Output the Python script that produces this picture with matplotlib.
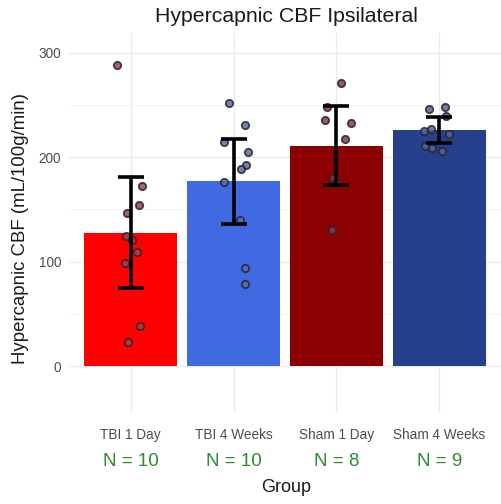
import matplotlib
matplotlib.use('Agg')
import matplotlib.pyplot as plt
import numpy as np
from matplotlib.ticker import MultipleLocator

plt.rcParams['font.family'] = ['Liberation Sans', 'DejaVu Sans']

# data
groups = ['TBI 1 Day', 'TBI 4 Weeks', 'Sham 1 Day', 'Sham 4 Weeks']
n_labels = ['N = 10', 'N = 10', 'N = 8', 'N = 9']
bar_colors = ['#FF0000', '#4169E1', '#8B0000', '#27408B']
point_colors = ['#A8404C', '#5A6CA8', '#8E3A44', '#55639A']

tbi_1day = [288.6, 172, 154, 147, 125, 121, 109, 99, 38.6, 22.7]
tbi_4wk = [252, 230.7, 215, 205, 193, 188.5, 176, 139.7, 93.7, 78.3]
sham_1day = [270.7, 248.3, 235.6, 233, 217, 180, 130, 175]
sham_4wk = [246.4, 248.3, 239.4, 227, 225.3, 222, 211, 208.6, 206.4]

# jitter offsets (category units) as seen in the picture
jit_tbi_1day = [-0.138, 0.113, 0.08, -0.033, -0.048, 0.013, 0.065, -0.058, 0.094, -0.029]
jit_tbi_4wk = [-0.042, 0.109, -0.096, 0.138, 0.116, 0.073, -0.094, 0.061, 0.112, 0.112]
jit_sham_1day = [0.041, -0.087, -0.116, 0.145, 0.087, -0.036, -0.039, 0.0]
jit_sham_4wk = [-0.103, 0.051, 0.068, -0.077, -0.145, 0.094, -0.142, -0.07, 0.026]

err_half = [53, 40.7, 38, 12.3]

values = [tbi_1day, tbi_4wk, sham_1day, sham_4wk]
jitters = [jit_tbi_1day, jit_tbi_4wk, jit_sham_1day, jit_sham_4wk]
means = [np.mean(v) for v in values]

fig = plt.figure(figsize=(5.02, 5.04), dpi=100)
W, H = 502, 504
ax = fig.add_axes([68 / W, 1 - 413 / H, 433 / W, 380 / H])

x = np.arange(1, len(groups) + 1)
ax.bar(x, means, width=0.9, color=bar_colors, zorder=2)

for i, (vals, jit) in enumerate(zip(values, jitters)):
    ax.scatter(x[i] + np.array(jit), vals, s=28, facecolor=point_colors[i],
               edgecolor='#262630', linewidth=1.3, alpha=0.85, zorder=3)

ax.errorbar(x, means, yerr=err_half, fmt='none', ecolor='black',
            elinewidth=2.6, capsize=9.4, capthick=2.6, zorder=4)

ax.set_xlim(0.39, 4.6)
ax.set_ylim(-45, 319)
ax.yaxis.set_minor_locator(MultipleLocator(50))
ax.set_yticks([0, 100, 200, 300])
ax.set_xticks(x)
ax.set_xticklabels(groups)

ax.grid(True, which='major', color='#EBEBEB', linewidth=1.0, zorder=0)
ax.grid(True, which='minor', axis='y', color='#F2F2F2', linewidth=0.6, zorder=0)
ax.set_axisbelow(True)
for sp in ax.spines.values():
    sp.set_visible(False)
ax.tick_params(axis='both', which='both', length=0, colors='#4D4D4D', labelsize=9.8)
ax.tick_params(axis='x', pad=11)
ax.tick_params(axis='y', pad=5)

# N labels under the category names
for xi, lab in zip(x, n_labels):
    ax.annotate(lab, xy=(xi, 0), xycoords=('data', 'figure fraction'),
                xytext=(0, 1 - 462 / H), textcoords=('offset points', 'figure fraction'),
                ha='center', va='center', color='#2E8B2E', fontsize=13.5)

fig.text(286 / W, 1 - 487 / H, 'Group', ha='center', va='center', fontsize=13, color='#1A1A1A')
fig.text(21 / W, 1 - 229 / H, 'Hypercapnic CBF (mL/100g/min)', rotation=90,
         ha='center', va='center', fontsize=13.4, color='#1A1A1A')
fig.text(286 / W, 1 - 17 / H, 'Hypercapnic CBF Ipsilateral', ha='center', va='center',
         fontsize=15.3, color='#1A1A1A')

plt.savefig('out.png', dpi=100)
plt.close()
